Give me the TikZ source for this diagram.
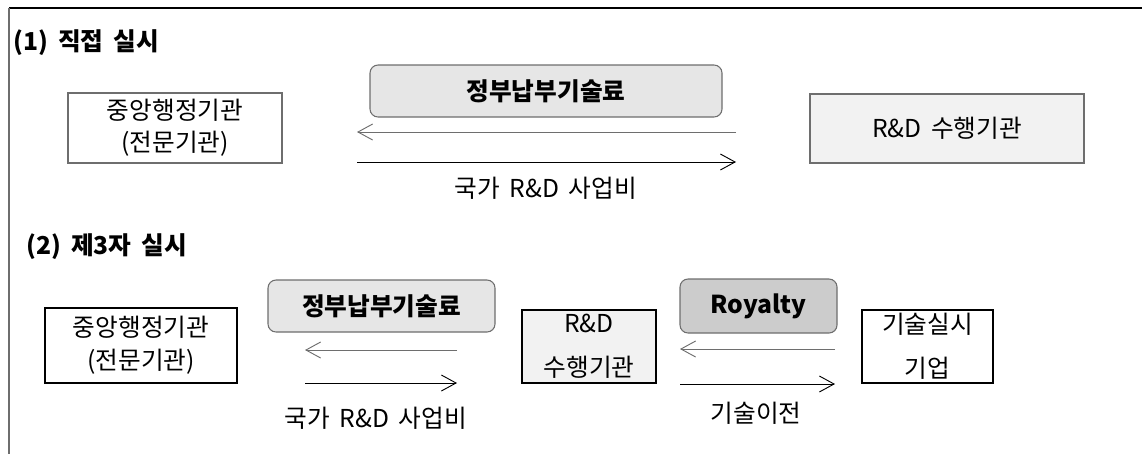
\documentclass[tikz,border=0pt]{standalone}
\usepackage{fontspec}
\setmainfont{Noto Sans CJK KR}
\usepackage{tikz}
\usetikzlibrary{arrows.meta,positioning}
\definecolor{rahmengrau}{HTML}{6E6E6E}
\definecolor{feegrau}{HTML}{E6E6E6}
\definecolor{hellgrau}{HTML}{F2F2F2}
\definecolor{royaltygrau}{HTML}{CCCCCC}
\tikzset{
  agency/.style={draw=rahmengrau,line width=1.5pt,fill=white,align=center,inner sep=0pt,font=\fontsize{18.5}{24}\selectfont},
  thickagency/.style={agency,draw=black,line width=2.2pt},
  feebox/.style={draw=rahmengrau,line width=0.8pt,rounded corners=6pt,fill=feegrau,inner sep=0pt,font=\fontsize{18.5}{24}\selectfont\bfseries},
  flow/.style={line width=0.75pt,-{Straight Barb[length=11pt,width=12pt,line width=0.7pt]}},
  flowlabel/.style={font=\fontsize{18.5}{24}\selectfont},
  title/.style={anchor=west,font=\fontsize{18.5}{24}\selectfont\bfseries}
}
\begin{document}
\begin{tikzpicture}[x=0.75pt,y=-0.75pt]
\useasboundingbox (0,0) rectangle (1142,454);
%Rahmen: nur oben und links
\draw[black,line width=1.6pt] (9,8) -- (1142,8);
\draw[rahmengrau,line width=1.2pt] (9,8) -- (9,454);
%(1) direkt
\node[title] (titelA) at (9,43) {(1)\, 직접\, 실시};
\node[agency,minimum width=160.5pt,minimum height=52.5pt] (zentrA) at (175,128) {중앙행정기관\\(전문기관)};
\node[feebox,minimum width=264pt,minimum height=39pt] (gebA) at (546,91) {정부납부기술료};
\node[agency,fill=hellgrau,minimum width=205.5pt,minimum height=51.75pt] (rdA) at (947,128.5) {R\&D\, 수행기관};
\coordinate (aL1) at (357,132);
\coordinate (aR1) at (736,132);
\coordinate (bL1) at (357,162);
\coordinate (bR1) at (736,162);
\draw[flow,rahmengrau] (aR1) -- (aL1);
\draw[flow,black] (bL1) -- (bR1);
\node[flowlabel] (geldA) at (546,188) {국가\, R\&D\, 사업비};
%(2) Dritte
\node[title] (titelB) at (22,247) {(2)\, 제3자\, 실시};
\node[thickagency,minimum width=144pt,minimum height=56.25pt] (zentrB) at (141,345.5) {중앙행정기관\\[1pt](전문기관)};
\node[feebox,minimum width=170.25pt,minimum height=39pt] (gebB) at (381.5,306) {정부납부기술료};
\node[thickagency,fill=hellgrau,minimum width=100.5pt,minimum height=54.75pt] (rdB) at (589,346.5) {R\&D\\[9pt]수행기관};
\node[feebox,fill=royaltygrau,minimum width=117.75pt,minimum height=40.5pt] (roy) at (758.5,306) {Royalty};
\node[thickagency,minimum width=98.25pt,minimum height=54.75pt] (firma) at (927.5,346.5) {기술실시\\[9pt]기업};
\coordinate (aL2) at (305,350);
\coordinate (aR2) at (457,350);
\coordinate (bL2) at (305,383);
\coordinate (bR2) at (457,383);
\draw[flow,rahmengrau] (aR2) -- (aL2);
\draw[flow,black] (bL2) -- (bR2);
\node[flowlabel] (geldB) at (376,418) {국가\, R\&D\, 사업비};
\coordinate (aL3) at (680,349);
\coordinate (aR3) at (835,349);
\coordinate (bL3) at (680,384);
\coordinate (bR3) at (835,384);
\draw[flow,rahmengrau] (aR3) -- (aL3);
\draw[flow,black] (bL3) -- (bR3);
\node[flowlabel] (transfer) at (756,413) {기술이전};
\end{tikzpicture}
\end{document}
